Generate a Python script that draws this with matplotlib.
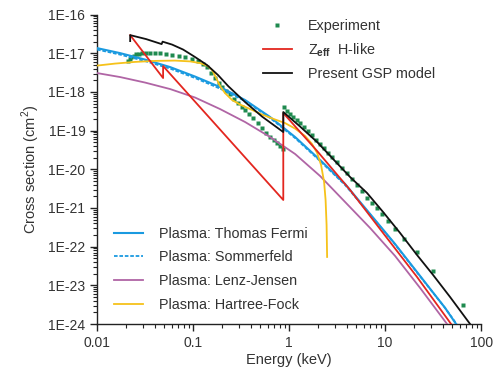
import numpy as np
import matplotlib.pyplot as plt
from matplotlib.ticker import LogLocator, NullFormatter, FuncFormatter

plt.rcParams['font.family'] = ['Liberation Sans', 'DejaVu Sans']
plt.rcParams['mathtext.fontset'] = 'custom'
plt.rcParams['mathtext.rm'] = 'Liberation Sans'
plt.rcParams['mathtext.bf'] = 'Liberation Sans:bold'

# --- Experimental points (keV, cm^2) ---
exp_e_low = [0.0210, 0.0218, 0.0226, 0.0240, 0.0255, 0.0274, 0.0294, 0.0324, 0.0357,
             0.0402, 0.0453, 0.0523, 0.0604, 0.0706, 0.0825, 0.0964, 0.113, 0.126,
             0.140, 0.154, 0.169, 0.184, 0.200, 0.221, 0.243, 0.267, 0.294, 0.320,
             0.348, 0.383, 0.422, 0.470, 0.523, 0.576, 0.634, 0.690, 0.750, 0.806, 0.866]
exp_s_low = [6.29e-18, 7.08e-18, 7.98e-18, 8.72e-18, 9.53e-18, 9.82e-18, 1.01e-17, 1.03e-17, 1.04e-17,
             1.03e-17, 1.01e-17, 9.71e-18, 9.25e-18, 8.61e-18, 7.98e-18, 7.08e-18, 6.29e-18, 5.26e-18,
             4.40e-18, 3.17e-18, 2.29e-18, 1.75e-18, 1.34e-18, 1.09e-18, 8.83e-19, 6.75e-19, 5.16e-19, 4.20e-19,
             3.40e-19, 2.69e-19, 2.12e-19, 1.57e-19, 1.17e-19, 8.93e-20, 6.84e-20, 5.71e-20, 4.78e-20, 4.00e-20, 3.35e-20]
exp_e_high = [0.887, 0.953, 1.02, 1.10, 1.21, 1.30, 1.43, 1.58, 1.74, 1.91, 2.10, 2.32, 2.55,
              2.80, 3.16, 3.56, 4.02, 4.53, 5.11, 5.76, 6.49, 7.32, 8.26, 9.31, 10.7, 12.7,
              15.8, 21.5, 31.6, 64.9]
exp_s_high = [4.07e-19, 3.31e-19, 2.77e-19, 2.31e-19, 1.88e-19, 1.57e-19, 1.24e-19, 9.77e-20, 7.69e-20,
              5.89e-20, 4.64e-20, 3.55e-20, 2.72e-20, 2.08e-20, 1.55e-20, 1.11e-20, 8.02e-21, 5.61e-21,
              3.93e-21, 2.67e-21, 1.81e-21, 1.31e-21, 1.0e-21, 7.0e-22, 4.61e-22, 2.86e-22, 1.58e-22,
              7.30e-23, 2.36e-23, 3.12e-24]

# --- Z_eff H-like ---
zeff_e = [0.0221, 0.0487, 0.0487, 0.87, 0.87, 1.96, 4.32, 9.53, 21.5, 48.7]
zeff_s = [2.95e-17, 2.29e-18, 4.67e-18, 1.61e-21, 2.85e-19, 2.97e-20, 2.92e-21, 2.26e-22, 1.65e-23, 1.0e-24]

# --- Present GSP model ---
gsp_e = [0.0221, 0.0221, 0.0324, 0.0470, 0.0481, 0.0604, 0.0787, 0.105, 0.140, 0.182, 0.232,
         0.348, 0.523, 0.87, 0.87, 1.30, 1.96, 2.87, 4.32, 6.49, 9.53, 14.33, 21.5, 31.6, 47.5, 76.8]
gsp_s = [2.07e-17, 2.95e-17, 2.33e-17, 1.73e-17, 2.00e-17, 1.68e-17, 1.25e-17, 7.98e-18, 4.95e-18,
         2.73e-18, 1.42e-18, 5.48e-19, 2.31e-19, 9.2e-20, 3.03e-19, 1.28e-19, 5.07e-20, 1.85e-20,
         6.32e-21, 2.44e-21, 7.88e-22, 2.26e-22, 6.10e-23, 1.86e-23, 5.01e-24, 1.0e-24]

# --- Plasma models ---
tf_e = [0.01, 0.01736, 0.03162, 0.0576, 0.1049, 0.1911, 0.3482, 0.634, 1.155, 2.104,
        3.831, 6.98, 12.71, 23.15, 42.17, 54.9]
tf_s = [1.36e-17, 1.01e-17, 6.87e-18, 4.40e-18, 2.50e-18, 1.34e-18, 6.18e-19, 2.25e-19, 6.83e-20,
        1.74e-20, 4.17e-21, 7.00e-22, 1.17e-22, 1.75e-23, 2.61e-24, 1.0e-24]

som_e = [0.01, 0.01736, 0.03162, 0.0576, 0.1049, 0.1911, 0.3482, 0.634, 1.155, 2.104,
         3.831, 6.98, 12.71, 23.15, 42.17, 55.6]
som_s = [1.25e-17, 9.25e-18, 6.29e-18, 4.02e-18, 2.29e-18, 1.22e-18, 5.82e-19, 2.12e-19, 6.44e-20,
         1.64e-20, 3.93e-21, 6.79e-22, 1.14e-22, 1.70e-23, 2.61e-24, 1.0e-24]

lj_e = [0.01, 0.01736, 0.03162, 0.0576, 0.1049, 0.1911, 0.3482, 0.634, 1.155, 2.104,
        3.831, 6.98, 12.71, 23.15, 44.2]
lj_s = [3.08e-18, 2.43e-18, 1.75e-18, 1.19e-18, 7.17e-19, 3.61e-19, 1.67e-19, 6.83e-20, 2.49e-20,
        6.71e-21, 1.43e-21, 3.04e-22, 5.75e-23, 8.57e-24, 1.0e-24]

hf_e = [0.01, 0.0154, 0.0249, 0.0402, 0.0649, 0.0931, 0.118, 0.140, 0.158, 0.174, 0.191, 0.215,
        0.255, 0.309, 0.393, 0.523, 0.715, 0.908, 1.155, 1.468, 1.736, 1.96, 2.154, 2.316,
        2.400, 2.458, 2.49]
hf_s = [4.81e-18, 5.42e-18, 5.99e-18, 6.36e-18, 6.48e-18, 6.17e-18, 5.58e-18, 4.81e-18, 3.68e-18,
        2.29e-18, 1.42e-18, 9.37e-19, 6.18e-19, 4.72e-19, 3.61e-19, 2.61e-19, 1.94e-19, 1.57e-19,
        1.13e-19, 7.25e-20, 4.51e-20, 2.64e-20, 1.29e-20, 4.70e-21, 1.61e-21, 3.64e-22, 5.42e-23]

fig = plt.figure(figsize=(4.98, 3.75), dpi=100)
ax = fig.add_axes([0.195, 0.136, 0.771, 0.825])

green = '#1f8a4f'
exp_line, = ax.plot(exp_e_low + exp_e_high, exp_s_low + exp_s_high, 's', color=green, ms=3.3,
                    mec='none', zorder=2, label='Experiment')
zeff_line, = ax.plot(zeff_e, zeff_s, color='#e3261f', lw=1.3, zorder=4, label=r'Z$_{\mathbf{eff}}$  H-like')
gsp_line, = ax.plot(gsp_e, gsp_s, color='#111111', lw=1.3, zorder=5, label='Present GSP model')

tf_line, = ax.plot(tf_e, tf_s, color='#1a9ae0', lw=1.5, zorder=3, label='Plasma: Thomas Fermi')
som_line, = ax.plot(som_e, som_s, color='#1a9ae0', lw=1.3, ls=(0, (2, 1)), zorder=3,
                    label='Plasma: Sommerfeld')
lj_line, = ax.plot(lj_e, lj_s, color='#b065a5', lw=1.3, zorder=3, label='Plasma: Lenz-Jensen')
hf_line, = ax.plot(hf_e, hf_s, color='#f6c21a', lw=1.3, zorder=3, label='Plasma: Hartree-Fock')

ax.set_xscale('log')
ax.set_yscale('log')
ax.set_xlim(0.01, 100)
ax.set_ylim(1e-24, 1e-16)

ax.spines['top'].set_visible(False)
ax.spines['right'].set_visible(False)
for s in ('left', 'bottom'):
    ax.spines[s].set_linewidth(1.0)
    ax.spines[s].set_color('#222222')

ax.xaxis.set_major_locator(LogLocator(base=10, numticks=10))
ax.xaxis.set_minor_locator(LogLocator(base=10, subs=np.arange(2, 10), numticks=20))
ax.yaxis.set_major_locator(LogLocator(base=10, numticks=12))
ax.yaxis.set_minor_locator(LogLocator(base=10, subs=np.arange(2, 10), numticks=20))
ax.xaxis.set_major_formatter(FuncFormatter(lambda v, p: f'{v:g}'))
ax.yaxis.set_major_formatter(FuncFormatter(lambda v, p: f'1E{int(round(np.log10(v)))}'))
ax.xaxis.set_minor_formatter(NullFormatter())
ax.yaxis.set_minor_formatter(NullFormatter())
ax.tick_params(which='major', direction='out', length=5, width=1, labelsize=10, colors='#222222',
               labelcolor='#333333')
ax.tick_params(which='minor', direction='out', length=3, width=0.8, colors='#222222')

ax.set_xlabel('Energy (keV)', fontsize=10.5, color='#333333', labelpad=2)
ax.set_ylabel(r'Cross section (cm$^2$)', fontsize=10.5, color='#333333', labelpad=4)

leg1 = ax.legend(handles=[exp_line, zeff_line, gsp_line], loc='upper left',
                 bbox_to_anchor=(0.402, 1.022), frameon=False, fontsize=10.4,
                 handlelength=2.0, handletextpad=1.1, labelspacing=0.56, borderpad=0.3)
for t in leg1.get_texts():
    t.set_color('#333333')
ax.add_artist(leg1)
leg2 = ax.legend(handles=[tf_line, som_line, lj_line, hf_line], loc='upper left',
                 bbox_to_anchor=(0.0145, 0.352), frameon=False, fontsize=10.4,
                 handlelength=2.0, handletextpad=1.1, labelspacing=0.68, borderpad=0.3)
for t in leg2.get_texts():
    t.set_color('#333333')

fig.savefig('out.png', dpi=100)
